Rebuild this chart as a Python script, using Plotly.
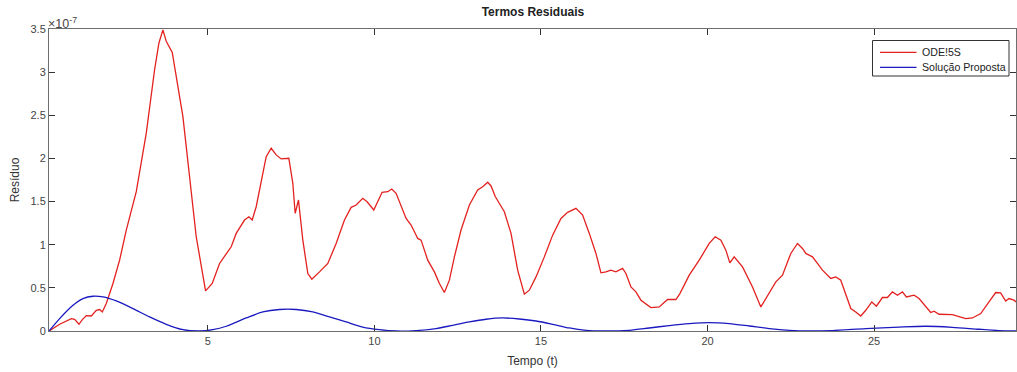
import plotly.graph_objects as go

# Residual of the ODE45 solver (values in units of 1e-7)
t_ode = [0.23, 0.55, 0.90, 1.00, 1.13, 1.23, 1.35, 1.50, 1.65, 1.75, 1.83, 1.95, 2.15, 2.35,
         2.55, 2.85, 3.15, 3.40, 3.53, 3.65, 3.75, 3.93, 4.25, 4.65, 4.93, 5.13, 5.35, 5.70,
         5.85, 6.10, 6.23, 6.33, 6.45, 6.60, 6.75, 6.90, 7.05, 7.20, 7.43, 7.55, 7.62, 7.72,
         7.85, 8.00, 8.12, 8.35, 8.60, 8.85, 9.10, 9.30, 9.45, 9.65, 9.78, 9.98, 10.23, 10.40,
         10.52, 10.65, 10.95, 11.10, 11.30, 11.40, 11.60, 11.80, 11.95, 12.10, 12.25, 12.40,
         12.60, 12.85, 13.10, 13.25, 13.40, 13.50, 13.63, 13.90, 14.10, 14.30, 14.50, 14.65,
         14.85, 15.10, 15.35, 15.60, 15.80, 16.05, 16.25, 16.45, 16.65, 16.80, 16.95, 17.10,
         17.25, 17.45, 17.55, 17.70, 17.85, 18.00, 18.30, 18.55, 18.80, 19.05, 19.17, 19.45,
         19.75, 20.05, 20.23, 20.40, 20.55, 20.67, 20.80, 21.05, 21.35, 21.60, 21.85, 22.05,
         22.25, 22.50, 22.70, 22.85, 22.95, 23.15, 23.30, 23.45, 23.70, 23.85, 24.00, 24.15,
         24.30, 24.45, 24.60, 24.75, 24.93, 25.07, 25.25, 25.40, 25.55, 25.70, 25.85, 25.97,
         26.20, 26.35, 26.55, 26.70, 26.80, 26.95, 27.35, 27.55, 27.75, 27.95, 28.20, 28.45,
         28.65, 28.80, 28.95, 29.05, 29.20, 29.26]
r_ode = [0.0, 0.078, 0.144, 0.136, 0.078, 0.132, 0.179, 0.174, 0.240, 0.249, 0.221, 0.318, 0.551, 0.821,
         1.170, 1.614, 2.293, 3.028, 3.338, 3.490, 3.357, 3.229, 2.485, 1.092, 0.465, 0.551, 0.783, 0.976,
         1.131, 1.286, 1.324, 1.286, 1.440, 1.750, 2.021, 2.118, 2.041, 1.994, 2.002, 1.712, 1.364, 1.518,
         1.053, 0.666, 0.600, 0.685, 0.783, 1.015, 1.286, 1.433, 1.460, 1.538, 1.498, 1.402, 1.607, 1.614,
         1.646, 1.596, 1.305, 1.228, 1.073, 1.053, 0.821, 0.685, 0.551, 0.446, 0.589, 0.859,
         1.170, 1.460, 1.634, 1.672, 1.724, 1.681, 1.556, 1.382, 1.131, 0.705, 0.426, 0.473,
         0.627, 0.859, 1.111, 1.305, 1.375, 1.422, 1.344, 1.131, 0.899, 0.674, 0.685, 0.705,
         0.685, 0.725, 0.667, 0.511, 0.453, 0.357, 0.272, 0.279, 0.365, 0.365, 0.434, 0.647,
         0.821, 1.015, 1.092, 1.053, 0.937, 0.790, 0.859, 0.743, 0.511, 0.279, 0.434, 0.569,
         0.647, 0.899, 1.015, 0.957, 0.899, 0.859, 0.783, 0.705, 0.609, 0.627, 0.589, 0.434,
         0.260, 0.221, 0.174, 0.240, 0.337, 0.287, 0.388, 0.388, 0.453, 0.415, 0.453, 0.395,
         0.415, 0.376, 0.279, 0.214, 0.229, 0.194, 0.190, 0.171, 0.144, 0.151, 0.202, 0.337,
         0.446, 0.441, 0.348, 0.376, 0.357, 0.337]

# Residual of the proposed solution (values in units of 1e-7)
t_prop = [0.23, 0.55, 0.95, 1.25, 1.55, 1.85, 2.25, 2.75, 3.25, 3.75, 4.25, 4.75, 5.15, 5.55,
          6.15, 6.65, 7.15, 7.65, 8.15, 8.65, 9.15, 9.65, 10.15, 10.65, 11.25, 11.85, 12.35,
          12.85, 13.35, 13.85, 14.35, 14.85, 15.35, 15.85, 16.35, 16.85, 17.65, 18.25, 18.85,
          19.45, 20.05, 20.65, 21.25, 21.85, 22.45, 23.05, 23.74, 24.75, 25.75, 26.55, 27.35,
          28.15, 28.75, 29.26]
r_prop = [0.0, 0.144, 0.298, 0.376, 0.403, 0.395, 0.348, 0.260, 0.163, 0.078, 0.016, 0.0, 0.016, 0.055,
          0.151, 0.221, 0.249, 0.249, 0.221, 0.163, 0.105, 0.046, 0.016, 0.0, 0.005, 0.028, 0.066,
          0.105, 0.136, 0.151, 0.139, 0.116, 0.078, 0.035, 0.008, 0.0, 0.008, 0.035, 0.063,
          0.086, 0.098, 0.086, 0.058, 0.028, 0.008, 0.0, 0.005, 0.028, 0.046, 0.055, 0.043,
          0.020, 0.005, 0.0]

series_names = ["ODE!5S", "Solução Proposta"]
series_colors = ["#e3211f", "#1a1ac0"]

y_ticks = [0, 0.5, 1, 1.5, 2, 2.5, 3, 3.5]
x_ticks = [5, 10, 15, 20, 25]

FONT = "Liberation Sans, Arial, sans-serif"
AXIS_COLOR = "#6e6e6e"

W, H = 1017, 372
M_L, M_R, M_T, M_B = 49, 1, 29, 41


def px_x(px):
    """Figure pixel column -> paper x."""
    return (px - M_L) / (W - M_L - M_R)


def px_y(py):
    """Figure pixel row (from top) -> paper y."""
    return (H - M_B - py) / (H - M_T - M_B)


fig = go.Figure()
fig.add_trace(go.Scatter(x=t_ode, y=r_ode, mode="lines", name=series_names[0],
                         line=dict(color=series_colors[0], width=1.3)))
fig.add_trace(go.Scatter(x=t_prop, y=r_prop, mode="lines", name=series_names[1],
                         line=dict(color=series_colors[1], width=1.3, shape="spline", smoothing=0.8)))

axis_common = dict(showgrid=False, zeroline=False, showline=True, linecolor=AXIS_COLOR,
                   linewidth=1, mirror="allticks", ticks="inside", ticklen=6,
                   tickcolor="#333333", tickwidth=1,
                   tickfont=dict(family=FONT, size=11, color="#444444"))

fig.update_xaxes(range=[0.23, 29.26], tickvals=x_ticks,
                 title=dict(text="Tempo (t)", font=dict(family=FONT, size=12, color="#333333"),
                            standoff=10),
                 **axis_common)
fig.update_yaxes(range=[0, 3.5], tickvals=y_ticks,
                 title=dict(text="Resíduo", font=dict(family=FONT, size=12, color="#333333"),
                            standoff=8),
                 **axis_common)

# exponent marker of the y axis
fig.add_annotation(text="×10<sup>-7</sup>", xref="paper", yref="paper", x=0, y=1.0,
                   xanchor="left", yanchor="bottom", showarrow=False, xshift=-3, yshift=-4,
                   font=dict(family=FONT, size=12.5, color="#444444"))

# compact boxed legend in the upper right corner
shapes = [dict(type="rect", xref="paper", yref="paper",
               x0=px_x(872.5), x1=px_x(1009), y0=px_y(76), y1=px_y(40.5),
               line=dict(color="#333333", width=1), fillcolor="white", layer="above")]
legend_rows = [52.3, 67.3]
for name, color, row in zip(series_names, series_colors, legend_rows):
    shapes.append(dict(type="line", xref="paper", yref="paper",
                       x0=px_x(880), x1=px_x(916.5), y0=px_y(row), y1=px_y(row),
                       line=dict(color=color, width=1.3), layer="above"))
    fig.add_annotation(text=name, xref="paper", yref="paper", x=px_x(920), y=px_y(row),
                       xanchor="left", yanchor="middle", showarrow=False,
                       font=dict(family=FONT, size=10.6, color="#222222"))

fig.update_layout(
    width=W, height=H,
    margin=dict(l=M_L, r=M_R, t=M_T, b=M_B),
    paper_bgcolor="white", plot_bgcolor="white",
    title=dict(text="<b>Termos Residuais</b>", x=0.524, xanchor="center", y=0.968, yanchor="middle",
               font=dict(family=FONT, size=12, color="#222222")),
    showlegend=False,
    shapes=shapes,
)

fig.write_html("out.html")
